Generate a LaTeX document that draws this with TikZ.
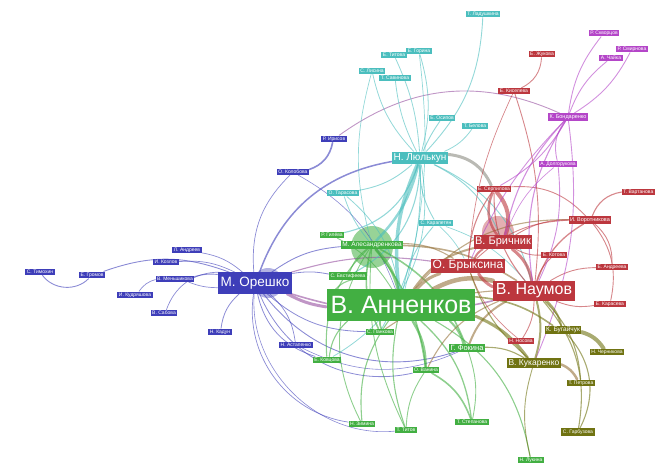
\documentclass[tikz,border=0pt]{standalone}
\usepackage{fontspec}
\setsansfont{Liberation Sans}
\usetikzlibrary{backgrounds}
\definecolor{oblue}{RGB}{62,62,185}
\definecolor{oteal}{RGB}{75,190,190}
\definecolor{ogreen}{RGB}{66,175,66}
\definecolor{ored}{RGB}{188,55,62}
\definecolor{omag}{RGB}{180,70,200}
\definecolor{oolive}{RGB}{112,115,18}
\definecolor{obrown}{RGB}{150,115,60}
\definecolor{ogrey}{RGB}{140,140,130}
\definecolor{opurple}{RGB}{150,80,160}
\tikzset{
  every node/.style={font=\sffamily},
  tag/.style={rectangle, inner xsep=1.5pt, inner ysep=1.2pt, text=white,
    font=\sffamily\fontsize{5}{5}\selectfont},
  size/.style={font=\sffamily\fontsize{#1}{#1}\selectfont},
  blue tag/.style={tag, fill=oblue},
  teal tag/.style={tag, fill=oteal},
  green tag/.style={tag, fill=ogreen},
  red tag/.style={tag, fill=ored},
  mag tag/.style={tag, fill=omag},
  olive tag/.style={tag, fill=oolive},
  edge/.style={line cap=round, draw opacity=0.6},
  blue edge/.style={edge, draw=oblue},
  teal edge/.style={edge, draw=oteal},
  green edge/.style={edge, draw=ogreen},
  red edge/.style={edge, draw=ored},
  mag edge/.style={edge, draw=omag},
  olive edge/.style={edge, draw=oolive},
  brown edge/.style={edge, draw=obrown},
  grey edge/.style={edge, draw=ogrey},
  purple edge/.style={edge, draw=opurple}
}

\begin{document}
\begin{tikzpicture}[x=1pt,y=1pt]
  \useasboundingbox (0,0) rectangle (656,-465);

  \node[blue tag, size=13.5, inner xsep=3pt, inner ysep=4.5pt] (oresh) at (255,-283) {М. Орешко};
  \node[teal tag, size=10, inner ysep=2pt] (lyulk) at (420,-158) {Н. Люлькун};
  \node[green tag, size=25, inner xsep=4pt, inner ysep=7pt] (annen) at (401,-305) {В. Анненков};
  \node[green tag, size=6.5] (alesan) at (372,-245) {М. Алесандренкова};
  \node[green tag, size=7.5] (fokina) at (467,-348) {Г. Фокина};
  \node[red tag, size=16, inner xsep=3pt, inner ysep=3pt] (naumov) at (534,-291) {В. Наумов};
  \node[red tag, size=12, inner ysep=2pt] (bryks) at (468,-266) {О. Брыксина};
  \node[red tag, size=11, inner ysep=2pt] (brich) at (503,-242) {В. Бричник};
  \node[red tag, size=5.5] (vorotn) at (590,-220) {И. Воротникова};
  \node[mag tag, size=5.5] (bondar) at (568,-117) {К. Бондаренко};
  \node[olive tag, size=6.5] (bugai) at (563,-330) {К. Бугайчук};
  \node[olive tag, size=8.5] (kukar) at (534,-363) {В. Кукаренко};

  \foreach \n/\x/\y/\t in {timof/40/272/С. Тимохин, gromov/92/275/Е. Громов,
      andreev/187/250/Л. Андреев, kozlov/166/262/И. Козлов,
      mensh/175/279/В. Меньшикова, kudr/135/295/И. Кудряшова,
      sabova/164/313/В. Сабова, kadun/220/332/Н. Кадун,
      astap/296/345/Н. Астапенко, irina/334/139/Р. Ирисов,
      kolob/293/172/О. Колобова}
    \node[blue tag] (\n) at (\x,-\y) {\t};

  \foreach \n/\x/\y/\t in {ladush/483/14/Т. Ладушкина, gorin/419/51/Е. Горина,
      titova/394/55/Е. Титова, lisina/372/71/С. Лисина,
      savina/395/78/Т. Савинова, osipov/442/118/Е. Осипов,
      belova/475/126/Т. Белова, tarasova/343/193/О. Тарасова,
      karap/436/223/С. Карапетян}
    \node[teal tag] (\n) at (\x,-\y) {\t};

  \foreach \n/\x/\y/\t in {gileva/332/235/Р. Гилёва, evstif/348/276/С. Евстифеева,
      pankova/380/332/С. Панкова, kovtsova/327/360/Е. Ковцова,
      vanina/426/370/О. Ванина, zimina/362/424/Н. Зимина,
      titov/406/430/Т. Титов, stepan/472/422/Т. Степанова,
      lukina/531/460/Н. Лукина}
    \node[green tag] (\n) at (\x,-\y) {\t};

  \foreach \n/\x/\y/\t in {serpil/494/189/Е. Серпилова, kotova/554/255/Е. Котова,
      andreeva/612/267/Е. Андреева, karaseva/610/304/Е. Карасева,
      zhukova/542/54/Е. Жукова, kiseleva/514/91/Е. Киселева,
      nosova/521/341/Н. Носова}
    \node[red tag] (\n) at (\x,-\y) {\t};
  \node[red tag, anchor=east] (vartan) at (655,-192) {Т. Вартанова};

  \foreach \n/\x/\y/\t in {skvorts/604/33/Р. Скворцов, smirn/632/49/Р. Смирнова,
      chaika/611/58/А. Чайка, dolgor/558/164/А. Долгорукова}
    \node[mag tag] (\n) at (\x,-\y) {\t};

  \foreach \n/\x/\y/\t in {chern/607/352/Н. Черникова, petrova/581/383/Т. Петрова,
      garbuz/578/432/С. Гарбузова}
    \node[olive tag] (\n) at (\x,-\y) {\t};

  \begin{scope}[on background layer]
    \fill[ogreen, opacity=0.55] (372,-247) circle (21pt);
    \fill[oblue, opacity=0.4] (268,-283) circle (15pt);
    \fill[ored, opacity=0.4] (498,-232) circle (16pt);

    \foreach \a/\b/\c/\w in {timof/gromov/50/0.9, gromov/oresh/-20/0.9,
        andreev/oresh/-15/0.7, kozlov/oresh/-15/0.7, mensh/oresh/-10/0.9,
        mensh/oresh/10/0.7, kudr/mensh/-20/0.7, sabova/oresh/-35/0.7,
        kadun/oresh/-20/0.8, astap/oresh/20/0.7, irina/kolob/-30/1.6,
        kolob/oresh/25/0.7, kolob/annen/-20/0.6, oresh/lyulk/-30/1.5,
        oresh/alesan/-15/0.9, oresh/evstif/-10/0.8, oresh/pankova/20/0.8,
        oresh/kovtsova/30/0.8, oresh/fokina/35/0.9, oresh/vanina/40/0.8,
        oresh/zimina/45/0.7, oresh/titov/50/0.6, astap/fokina/25/0.6}
      \draw[blue edge, line width=\w pt] (\a) to[bend right=\c] (\b);

    \foreach \a/\b/\c/\w in {oresh/annen/10/3, oresh/naumov/15/1.6,
        oresh/bryks/-12/1.1, irina/bondar/-30/0.9}
      \draw[purple edge, line width=\w pt] (\a) to[bend right=\c] (\b);

    \foreach \a/\b/\c/\w in {ladush/lyulk/-20/0.9, gorin/lyulk/-15/0.8,
        titova/lyulk/-10/0.8, lisina/lyulk/15/0.8, savina/lyulk/10/0.8,
        gorin/annen/-10/0.7, lisina/alesan/15/0.7, osipov/lyulk/5/0.9,
        belova/lyulk/-15/0.8, lyulk/annen/15/3.5, lyulk/alesan/-15/2.5,
        lyulk/evstif/-30/1.1, lyulk/brich/-20/0.9, lyulk/tarasova/-15/0.9,
        lyulk/karap/15/0.9, lyulk/gileva/-30/1.1, lyulk/kovtsova/-35/0.8,
        lyulk/naumov/-25/0.9, lyulk/pankova/-15/0.9, tarasova/annen/-20/0.8,
        tarasova/alesan/10/0.8, karap/annen/15/0.9, karap/naumov/-15/0.7,
        karap/bryks/-10/0.7}
      \draw[teal edge, line width=\w pt] (\a) to[bend right=\c] (\b);
    \draw[grey edge, line width=3pt] (lyulk) to[bend left=30] (serpil);

    \foreach \a/\b/\c/\w in {alesan/annen/-15/3, alesan/evstif/15/1.1,
        alesan/pankova/20/1.6, alesan/fokina/-20/1.6, alesan/vanina/-15/1.6,
        alesan/kovtsova/25/1.1, alesan/zimina/30/0.9, alesan/titov/15/0.9,
        gileva/annen/-15/0.9, annen/pankova/15/1.6, annen/fokina/-15/2,
        annen/vanina/-15/2.5, annen/zimina/20/1.1, annen/titov/15/1.1,
        annen/stepan/-20/1.3, annen/lukina/-25/1.1, annen/kovtsova/20/1.1,
        vanina/stepan/-20/1.6, vanina/titov/15/0.9, fokina/stepan/-15/0.9,
        evstif/annen/15/1.1}
      \draw[green edge, line width=\w pt] (\a) to[bend right=\c] (\b);

    \foreach \a/\b/\c/\w in {annen/naumov/-20/4.5, annen/bryks/-15/3,
        annen/brich/-20/2, fokina/naumov/-20/2, annen/vorotn/-25/1.1,
        pankova/naumov/-15/1.1, vanina/naumov/-20/1.1, alesan/naumov/-15/1.6,
        alesan/bryks/-15/1.1, kukar/petrova/-20/2.5}
      \draw[brown edge, line width=\w pt] (\a) to[bend right=\c] (\b);

    \foreach \a/\b/\c/\w in {brich/naumov/-20/3, brich/serpil/30/4,
        brich/serpil/-30/2.5, bryks/naumov/15/3, bryks/brich/-15/2,
        vorotn/naumov/20/1.3, vorotn/vartan/-30/1.1, vorotn/andreeva/-25/0.9,
        vorotn/karaseva/-25/0.9, vorotn/brich/15/0.9, vorotn/bryks/20/0.9,
        kotova/naumov/15/0.9, kotova/brich/-15/0.9, andreeva/naumov/15/0.9,
        karaseva/naumov/-15/0.9, zhukova/kiseleva/-30/0.9,
        kiseleva/naumov/-12/0.9, kiseleva/bryks/10/0.7, nosova/naumov/15/0.9,
        nosova/bryks/-15/0.7, serpil/naumov/20/1.1, serpil/vorotn/-25/0.9,
        serpil/bryks/15/1.1}
      \draw[red edge, line width=\w pt] (\a) to[bend right=\c] (\b);

    \foreach \a/\b/\c/\w in {skvorts/bondar/15/0.9, smirn/bondar/-15/0.9,
        chaika/bondar/15/0.9, bondar/naumov/20/1.1, bondar/brich/15/1.1,
        bondar/bryks/10/0.9, bondar/serpil/-15/0.9, bondar/kukar/-15/0.9,
        dolgor/bondar/-25/0.9, dolgor/naumov/-15/0.9, dolgor/brich/15/0.7}
      \draw[mag edge, line width=\w pt] (\a) to[bend right=\c] (\b);

    \foreach \a/\b/\c/\w in {bugai/chern/-20/4, bugai/naumov/15/2,
        bugai/annen/15/1.6, bugai/garbuz/-35/1.1, kukar/annen/15/3,
        kukar/naumov/15/2, kukar/bryks/-15/1.1, kukar/lukina/15/0.9,
        petrova/naumov/20/1.1, garbuz/naumov/25/1.1, fokina/kukar/-15/1.1}
      \draw[olive edge, line width=\w pt] (\a) to[bend right=\c] (\b);
  \end{scope}
\end{tikzpicture}
\end{document}
